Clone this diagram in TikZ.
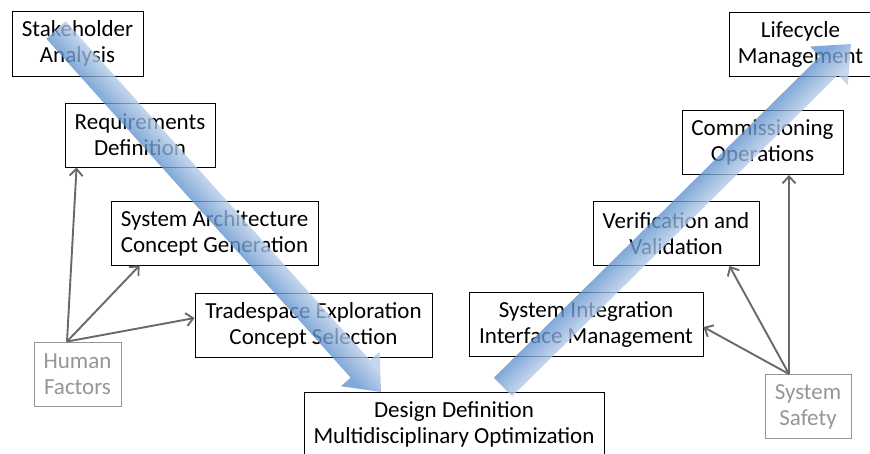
\documentclass[tikz,border=0pt]{standalone}
\usepackage{fontspec}
\setmainfont{Carlito}
\usetikzlibrary{arrows.meta,calc}
\definecolor{blueD}{RGB}{95,145,205}
\definecolor{blueL}{RGB}{182,204,233}
\definecolor{grayline}{RGB}{105,105,105}
\definecolor{graytext}{RGB}{150,150,150}
\pgfdeclareverticalshading{shadeUp}{540pt}{color(0pt)=(blueD); color(14pt)=(blueD); color(40pt)=(blueL); color(54pt)=(blueL)}
\pgfdeclareverticalshading{shadeDown}{540pt}{color(0pt)=(blueL); color(14pt)=(blueL); color(40pt)=(blueD); color(54pt)=(blueD)}
\begin{document}
\begin{tikzpicture}[x=1pt,y=-1pt,
  box/.style={draw=black, line width=0.9pt, fill=white, inner sep=0pt, minimum height=64pt, align=center,
    font=\fontsize{23}{26}\selectfont},
  gbox/.style={box, draw=graytext, text=graytext},
  conn/.style={draw=grayline, line width=1.9pt, -{Straight Barb[length=7pt,width=13pt]}}]
\useasboundingbox (0,0) rectangle (870,453);
\fill[white] (0,0) rectangle (870,453);
\clip (0,0) rectangle (870,453);
% boxes
\node[box, minimum width=131pt, minimum height=65pt] (SA) at (77.5,43.5) {Stakeholder\\Analysis};
\node[box, minimum width=150pt] (RD) at (140,135) {Requirements\\Definition};
\node[box, minimum width=207pt] (SAC) at (214.5,233) {System Architecture\\Concept Generation};
\node[box, minimum width=237pt] (TE) at (313.5,325) {Tradespace Exploration\\Concept Selection};
\node[gbox, minimum width=87pt] (HF) at (77.5,374) {Human\\Factors};
\node[box, minimum width=300pt] (DD) at (454,424.5) {Design Definition\\Multidisciplinary Optimization};
\node[box, minimum width=234pt] (SI) at (586,324.5) {System Integration\\Interface Management};
\node[box, minimum width=166pt] (VV) at (676,233.5) {Verification and\\Validation};
\node[box, minimum width=161pt] (CO) at (762.5,142.5) {Commissioning\\Operations};
\node[box, minimum width=143pt] (LM) at (800.5,44) {Lifecycle\\Management};
\node[gbox, minimum width=86pt] (SS) at (808,406.5) {System\\Safety};
% connectors
\coordinate (hfo) at ([xshift=-10.5pt]HF.north);
\draw[conn] (hfo) -- ([xshift=12pt]RD.south west);
\draw[conn] (hfo) -- ([xshift=29pt]SAC.south west);
\draw[conn] (hfo) -- ([yshift=7pt]TE.west);
\coordinate (sso) at ([xshift=-19pt]SS.north);
\draw[conn] (sso) -- ([xshift=26.5pt]CO.south);
\draw[conn] (sso) -- ([xshift=-30pt]VV.south east);
\draw[conn] (sso) -- ([yshift=-2.5pt]SI.east);
% blue process arrows
\coordinate (b1s) at (56,30);
\begin{scope}[shift={(b1s)}, rotate=-48.08, fill opacity=0.78]
\clip (0pt,-13pt) -- (455.5pt,-13pt) -- (455.5pt,-26pt) -- (486.5pt,0pt)
  -- (455.5pt,26pt) -- (455.5pt,13pt) -- (0pt,13pt) -- cycle;
\pgftransformshift{\pgfpoint{250pt}{0pt}}
\pgflowlevelsynccm
\pgfuseshading{shadeUp}
\end{scope}
\coordinate (b2s) at (503,387);
\begin{scope}[shift={(b2s)}, rotate=44.59, fill opacity=0.78]
\clip (0pt,-13pt) -- (457.6pt,-13pt) -- (457.6pt,-27pt) -- (488.6pt,0pt)
  -- (457.6pt,27pt) -- (457.6pt,13pt) -- (0pt,13pt) -- cycle;
\pgftransformshift{\pgfpoint{250pt}{0pt}}
\pgflowlevelsynccm
\pgfuseshading{shadeDown}
\end{scope}
\end{tikzpicture}
\end{document}
